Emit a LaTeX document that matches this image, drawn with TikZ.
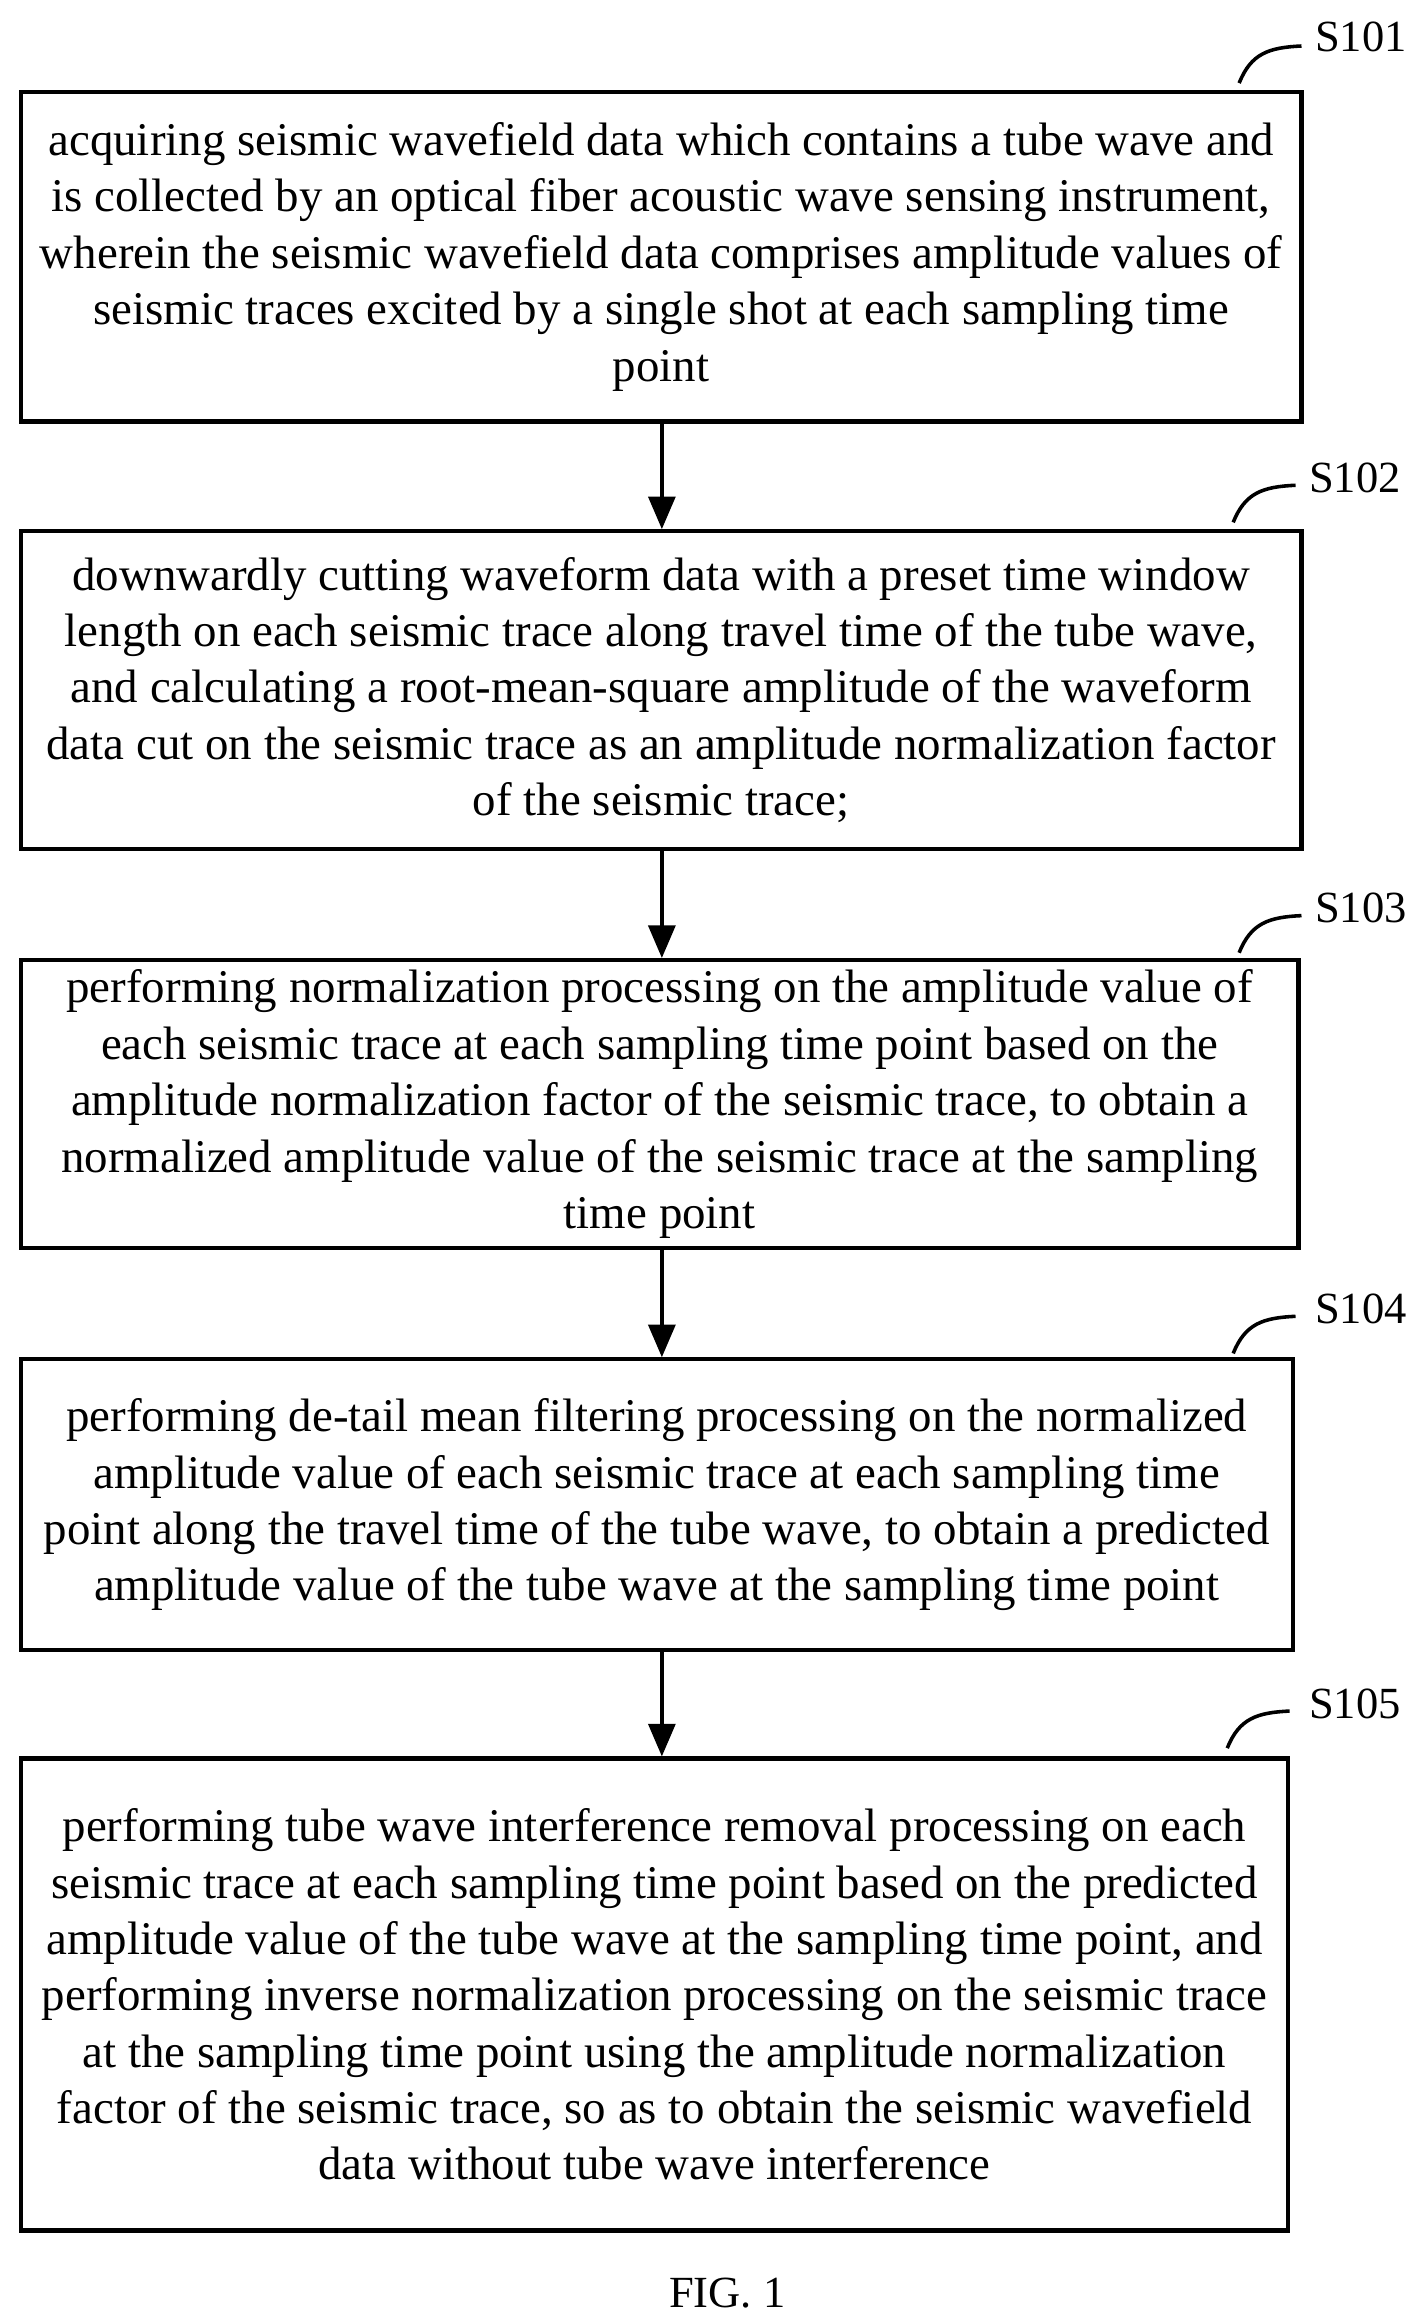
\documentclass[tikz,border=0pt]{standalone}
\usepackage{fontspec}
\setmainfont{Liberation Serif}
\usetikzlibrary{arrows.meta}
\tikzset{
  stepbox/.style={draw, line width=1.4pt, align=center, inner sep=0pt, font=\fontsize{15.8}{19}\selectfont},
  flow/.style={-{Triangle[length=11pt,width=9pt]}, line width=1.4pt},
  tag/.style={font=\fontsize{15}{17}\selectfont}
}
\begin{document}
\begin{tikzpicture}[x=0.5pt,y=-0.5pt]
	\useasboundingbox (0,0) rectangle (960,1562);
	\node[stepbox, minimum width=431.5pt, minimum height=111pt] (s1) at (445.5,173) {acquiring seismic wavefield data which contains a tube wave and\\ is collected by an optical fiber acoustic wave sensing instrument,\\ wherein the seismic wavefield data comprises amplitude values of\\ seismic traces excited by a single shot at each sampling time\\ point};
	\node[stepbox, minimum width=431.5pt, minimum height=107pt] (s2) at (445.5,465) {downwardly cutting waveform data with a preset time window\\ length on each seismic trace along travel time of the tube wave,\\ and calculating a root-mean-square amplitude of the waveform\\ data cut on the seismic trace as an amplitude normalization factor\\ of the seismic trace;};
	\node[stepbox, minimum width=430.5pt, minimum height=97pt] (s3) at (444.5,744) {performing normalization processing on the amplitude value of\\ each seismic trace at each sampling time point based on the\\ amplitude normalization factor of the seismic trace, to obtain a\\ normalized amplitude value of the seismic trace at the sampling\\ time point};
	\node[stepbox, minimum width=428.5pt, minimum height=98pt] (s4) at (442.5,1014) {performing de-tail mean filtering processing on the normalized\\ amplitude value of each seismic trace at each sampling time\\ point along the travel time of the tube wave, to obtain a predicted\\ amplitude value of the tube wave at the sampling time point};
	\node[stepbox, minimum width=427pt, minimum height=159pt] (s5) at (441,1344) {performing tube wave interference removal processing on each\\ seismic trace at each sampling time point based on the predicted\\ amplitude value of the tube wave at the sampling time point, and\\ performing inverse normalization processing on the seismic trace\\ at the sampling time point using the amplitude normalization\\ factor of the seismic trace, so as to obtain the seismic wavefield\\ data without tube wave interference};
	\draw[flow] (s1.south -| 446,0) -- (s2.north -| 446,0);
	\draw[flow] (s2.south -| 446,0) -- (s3.north -| 446,0);
	\draw[flow] (s3.south -| 446,0) -- (s4.north -| 446,0);
	\draw[flow] (s4.south -| 446,0) -- (s5.north -| 446,0);
	% step tags
	\foreach \nm/\tx/\ty/\cx/\cy in {S101/917/25/835/56, S102/913/322/831/352, S103/917/612/835/642, S104/917/882/831/912, S105/913/1148/827/1178} {
		\node[tag] (t\nm) at (\tx,\ty) {\nm};
		\draw[line width=1.2pt] (\cx,\cy) .. controls (\cx+8,\cy-20) and (\cx+20,\cy-24) .. (\cx+42,\cy-25);
	}
	\node[tag] (fig) at (490,1545) {FIG. 1};
\end{tikzpicture}
\end{document}
